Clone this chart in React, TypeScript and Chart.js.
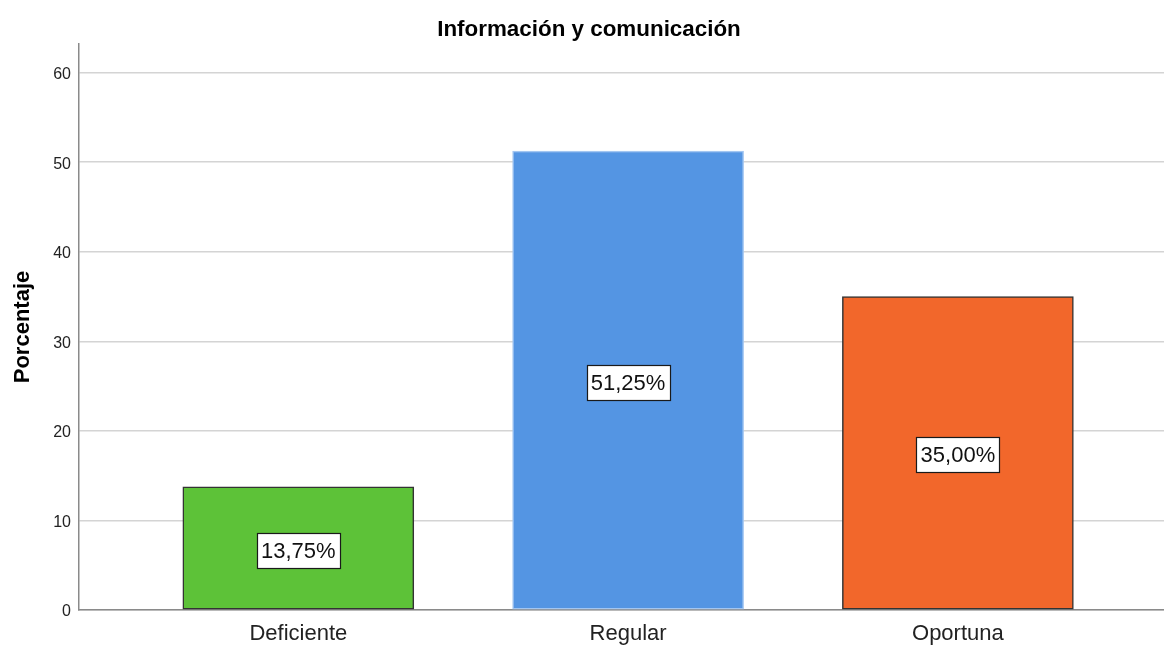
import React, { useEffect, useRef } from 'react';
import { Chart, registerables } from 'chart.js';

Chart.register(...registerables);

// Categories and their percentage values
const categories = ['Deficiente', 'Regular', 'Oportuna'];
const percentages = [13.75, 51.25, 35.0];
const barColors = ['#5DC238', '#5495E3', '#F2672B'];
const barBorders = ['#333333', '#A3C6F1', '#333333'];
const yTicks = [0, 10, 20, 30, 40, 50, 60];
const chartTitle = 'Información y comunicación';
const yTitle = 'Porcentaje';

const FONT = "'Liberation Sans', Arial, Helvetica, sans-serif";

const formatPct = (v: number) => v.toFixed(2).replace('.', ',') + '%';

// Chart heading, drawn slightly right of the canvas centre
const headingPlugin = {
  id: 'heading',
  afterDraw(chart: any) {
    const ctx = chart.ctx as CanvasRenderingContext2D;
    ctx.save();
    ctx.font = `bold 22.4px ${FONT}`;
    ctx.fillStyle = '#000000';
    ctx.textAlign = 'center';
    ctx.textBaseline = 'middle';
    ctx.fillText(chartTitle, chart.width / 2 + 7, 30);
    ctx.restore();
  },
};

// Boxed percentage label in the middle of each bar
const valueLabels = {
  id: 'valueLabels',
  afterDatasetsDraw(chart: any) {
    const ctx = chart.ctx as CanvasRenderingContext2D;
    const meta = chart.getDatasetMeta(0);
    ctx.save();
    ctx.font = `22px ${FONT}`;
    ctx.textAlign = 'center';
    ctx.textBaseline = 'middle';
    meta.data.forEach((bar: any, i: number) => {
      const text = formatPct(percentages[i]);
      const w = Math.round(ctx.measureText(text).width + 8);
      const h = 35;
      const cx = bar.x;
      const cy = (bar.y + bar.base) / 2 + 2;
      const left = Math.round(cx - w / 2) + 0.5;
      const top = Math.round(cy - h / 2) + 0.5;
      ctx.fillStyle = '#ffffff';
      ctx.fillRect(left, top, w, h);
      ctx.strokeStyle = '#1a1a1a';
      ctx.lineWidth = 1.2;
      ctx.strokeRect(left, top, w, h);
      ctx.fillStyle = '#111111';
      ctx.fillText(text, cx, top + h / 2 + 0.5);
    });
    ctx.restore();
  },
};

export default function App() {
  const canvasRef = useRef<HTMLCanvasElement | null>(null);

  useEffect(() => {
    if (!canvasRef.current) return;
    const chart = new Chart(canvasRef.current, {
      type: 'bar',
      data: {
        datasets: [
          {
            data: percentages.map((v, i) => ({ x: i + 1, y: v })),
            backgroundColor: barColors,
            borderColor: barBorders,
            borderWidth: 1.5,
            borderSkipped: false,
            barThickness: 231,
          },
        ],
      },
      options: {
        responsive: false,
        animation: false,
        layout: { padding: { top: 44, left: 0, right: 0, bottom: 0 } },
        plugins: {
          legend: { display: false },
          tooltip: { enabled: false },
          title: { display: false },
        },
        scales: {
          x: {
            type: 'linear',
            offset: false,
            min: 0.335,
            max: 3.625,
            afterBuildTicks: (scale: any) => {
              scale.ticks = categories.map((_, i) => ({ value: i + 1 }));
            },
            afterFit: (scale: any) => {
              scale.height = 36;
            },
            ticks: {
              autoSkip: false,
              maxRotation: 0,
              padding: 11,
              color: '#222222',
              font: { family: FONT, size: 22 },
              callback: (v: any) => categories[Math.round(Number(v)) - 1] ?? '',
            },
            grid: { display: false, drawTicks: false, offset: false },
            border: { display: true, color: '#8a8a8a', width: 1.5 },
          },
          y: {
            min: 0,
            max: 63.2,
            afterBuildTicks: (scale: any) => {
              scale.ticks = yTicks.map((v) => ({ value: v }));
            },
            afterFit: (scale: any) => {
              scale.width = 79;
            },
            ticks: {
              padding: 8,
              labelOffset: 2,
              color: '#222222',
              font: { family: FONT, size: 16 },
            },
            grid: { color: '#d4d4d4', lineWidth: 1.5, drawTicks: false },
            border: { display: true, color: '#8a8a8a', width: 1.5 },
            title: {
              display: true,
              text: yTitle,
              color: '#000000',
              font: { family: FONT, size: 22, weight: 'bold' },
              padding: { top: 10, bottom: 0 },
            },
          },
        },
      },
      plugins: [valueLabels, headingPlugin],
    });
    return () => chart.destroy();
  }, []);

  return (
    <div style={{ position: 'absolute', left: 0, top: 0, width: 1164, height: 646, background: '#ffffff' }}>
      <canvas ref={canvasRef} width={1164} height={646} style={{ display: 'block' }} />
    </div>
  );
}
